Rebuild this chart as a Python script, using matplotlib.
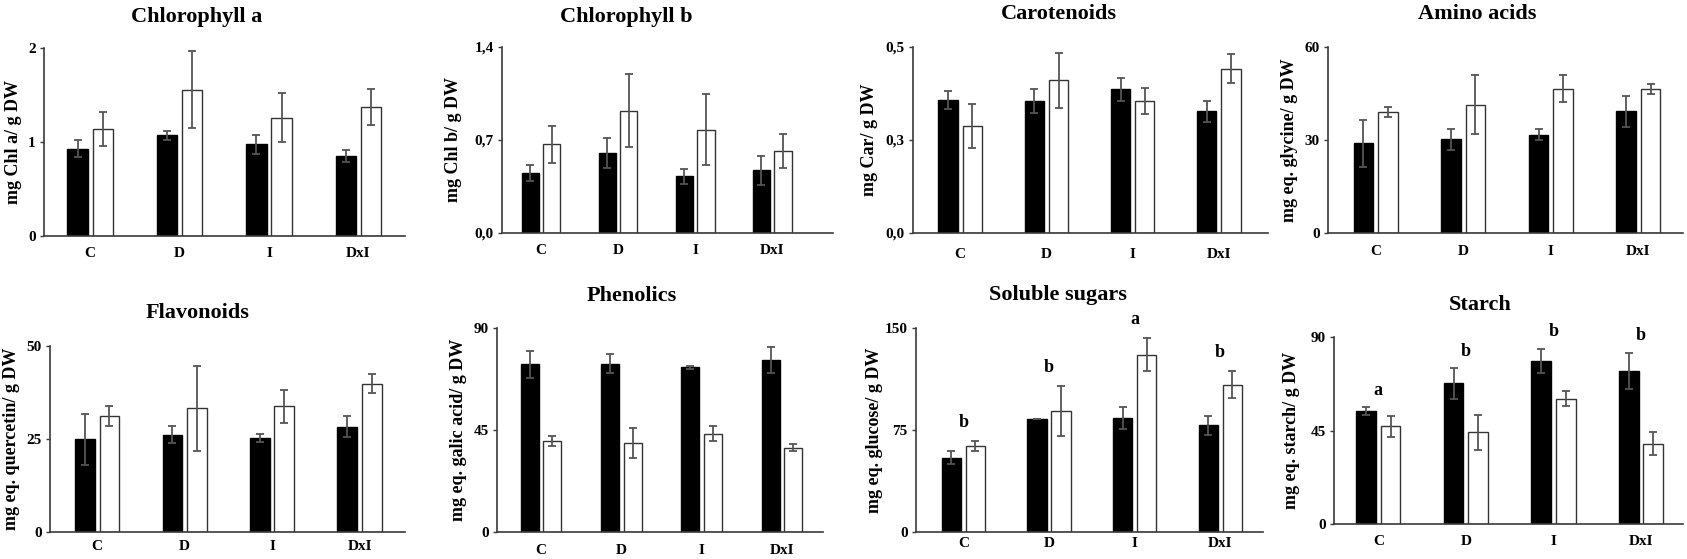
import matplotlib
matplotlib.use("Agg")
import matplotlib.pyplot as plt

plt.rcParams['font.family'] = ['Liberation Serif', 'DejaVu Serif']
plt.rcParams['font.weight'] = 'bold'

categories = ["C", "D", "I", "DxI"]

titles = ["Chlorophyll a", "Chlorophyll b", "Carotenoids", "Amino acids",
          "Flavonoids", "Phenolics", "Soluble sugars", "Starch"]
ylabels = ["mg Chl a/ g DW", "mg Chl b/ g DW", "mg Car/ g DW", "mg eq. glycine/ g DW",
           "mg eq. quercetin/ g DW", "mg eq. galic acid/ g DW", "mg eq. glucose/ g DW",
           "mg eq. starch/ g DW"]

# black series values / errors, white series values / errors
chla_black = [0.93, 1.07, 0.975, 0.85]
chla_black_err = [0.09, 0.045, 0.10, 0.065]
chla_white = [1.135, 1.555, 1.26, 1.37]
chla_white_err = [0.18, 0.41, 0.26, 0.19]

chlb_black = [0.454, 0.602, 0.426, 0.472]
chlb_black_err = [0.06, 0.11, 0.055, 0.11]
chlb_white = [0.667, 0.92, 0.778, 0.615]
chlb_white_err = [0.14, 0.275, 0.266, 0.127]

car_black = [0.357, 0.355, 0.387, 0.327]
car_black_err = [0.024, 0.033, 0.031, 0.029]
car_white = [0.2875, 0.41, 0.355, 0.442]
car_white_err = [0.058, 0.075, 0.034, 0.038]

amino_black = [28.9, 30.3, 31.7, 39.2]
amino_black_err = [7.6, 3.4, 1.8, 5.0]
amino_white = [39.1, 41.4, 46.6, 46.6]
amino_white_err = [1.6, 9.5, 4.4, 1.6]

flav_black = [24.9, 26.2, 25.3, 28.3]
flav_black_err = [6.9, 2.3, 1.0, 2.8]
flav_white = [31.2, 33.2, 33.8, 39.9]
flav_white_err = [2.7, 11.4, 4.5, 2.5]

phen_black = [73.9, 74.3, 72.7, 76.0]
phen_black_err = [5.9, 4.1, 0.75, 5.75]
phen_white = [40.3, 39.2, 43.4, 37.2]
phen_white_err = [2.2, 6.5, 3.3, 1.5]

sug_black = [54.7, 82.8, 83.6, 78.4]
sug_black_err = [4.5, 0.0, 8.0, 6.9]
sug_white = [63.2, 88.7, 130.4, 108.3]
sug_white_err = [3.8, 18.4, 12.1, 10.0]

starch_black = [54.5, 67.7, 78.6, 73.8]
starch_black_err = [1.85, 7.4, 5.8, 8.7]
starch_white = [47.0, 44.1, 60.3, 38.7]
starch_white_err = [5.2, 8.3, 3.6, 5.6]

sug_letters = ["b", "b", "a", "b"]
starch_letters = ["a", "b", "b", "b"]

yticks = [[0, 1, 2], [0, 0.7, 1.4], [0, 0.25, 0.5], [0, 30, 60],
          [0, 25, 50], [0, 45, 90], [0, 75, 150], [0, 45, 90]]
yticklabels = [["0", "1", "2"], ["0,0", "0,7", "1,4"], ["0,0", "0,3", "0,5"], ["0", "30", "60"],
               ["0", "25", "50"], ["0", "45", "90"], ["0", "75", "150"], ["0", "45", "90"]]

panels = [
    (chla_black, chla_black_err, chla_white, chla_white_err, None),
    (chlb_black, chlb_black_err, chlb_white, chlb_white_err, None),
    (car_black, car_black_err, car_white, car_white_err, None),
    (amino_black, amino_black_err, amino_white, amino_white_err, None),
    (flav_black, flav_black_err, flav_white, flav_white_err, None),
    (phen_black, phen_black_err, phen_white, phen_white_err, None),
    (sug_black, sug_black_err, sug_white, sug_white_err, sug_letters),
    (starch_black, starch_black_err, starch_white, starch_white_err, starch_letters),
]

W, H = 1687, 559
# axes boxes in pixels: left, top, right, bottom
boxes = [(44, 48, 405, 236), (502, 47, 833, 233), (913, 47, 1268, 233), (1328, 47, 1683, 233),
         (50, 346, 405, 532), (497, 328, 823, 532), (916, 328, 1263, 532), (1334, 337, 1683, 524)]
xlims = [(-0.515, 3.52), (-0.506, 3.79), (-0.548, 3.57), (-0.544, 3.51),
         (-0.54, 3.52), (-0.548, 3.51), (-0.553, 3.50), (-0.506, 3.48)]
ylabel_dx = [22, 40, 35, 30, 30, 30, 33, 34]
title_pos = [(197, 21.7), (626, 21.7), (1059, 19.3), (1477, 19.3),
             (198, 318), (632, 301), (1058, 300), (1480, 310)]
xpad = [8, 8, 11, 8.6, 5.8, 8.6, 3.6, 8]

fig = plt.figure(figsize=(W / 100, H / 100), dpi=100)
spine_col = "#3a3a3a"
err_col = "#555555"

for i, (bk, bke, wh, whe, letters) in enumerate(panels):
    l, t, r, b = boxes[i]
    ax = fig.add_axes([l / W, 1 - b / H, (r - l) / W, (b - t) / H])
    x = list(range(len(categories)))
    off = 0.14
    wdt = 0.225
    ekw = dict(ecolor=err_col, elinewidth=1.3, capsize=3, capthick=1.3)
    ax.bar([xi - off for xi in x], bk, wdt, color="black", edgecolor="black",
           yerr=bke, error_kw=ekw, zorder=2)
    ax.bar([xi + off for xi in x], wh, wdt, color="white", edgecolor="#333333",
           linewidth=1.0, yerr=whe, error_kw=ekw, zorder=2)
    ax.set_xlim(*xlims[i])
    ax.set_ylim(yticks[i][0], yticks[i][-1])
    ax.set_yticks(yticks[i])
    ax.set_yticklabels(yticklabels[i], fontsize=11, fontweight='bold')
    ax.set_xticks(x)
    ax.set_xticklabels(categories, fontsize=11, fontweight='bold')
    ax.tick_params(axis='x', length=0, pad=xpad[i])
    ax.tick_params(axis='y', length=3, width=1, color=spine_col, pad=3)
    for s in ["top", "right"]:
        ax.spines[s].set_visible(False)
    for s in ["left", "bottom"]:
        ax.spines[s].set_color(spine_col)
        ax.spines[s].set_linewidth(1.2)
    ax.set_ylabel(ylabels[i], fontsize=13, fontweight='bold')
    ax.yaxis.set_label_coords(-ylabel_dx[i] / (r - l), 0.5)
    if letters is not None:
        ymax = yticks[i][-1]
        for xi, lt, a, ae, c, ce in zip(x, letters, bk, bke, wh, whe):
            top = max(a + ae, c + ce)
            ax.text(xi, top + 0.09 * ymax, lt, ha='center', va='center',
                    fontsize=13, fontweight='bold', clip_on=False)
    tx, ty = title_pos[i]
    fig.text(tx / W, 1 - ty / H, titles[i], ha='center', va='baseline',
             fontsize=16, fontweight='bold')

fig.savefig("out.png", dpi=100)
